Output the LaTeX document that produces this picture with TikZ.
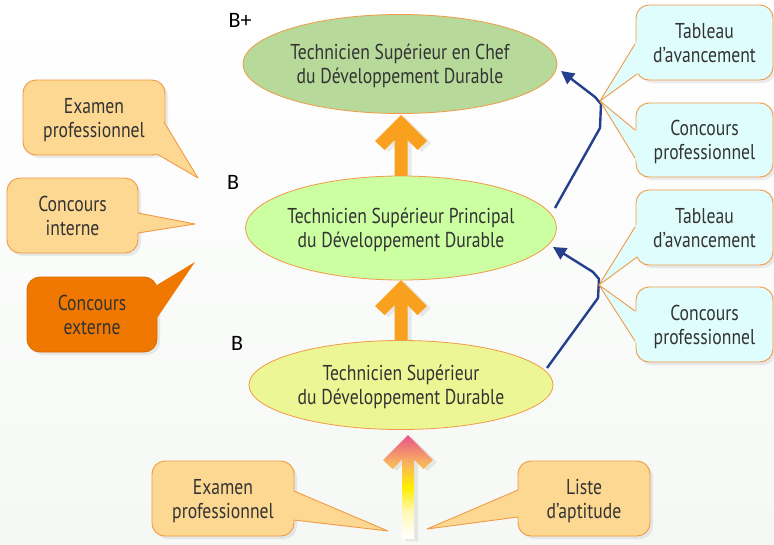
\documentclass[tikz,border=0pt]{standalone}
\usepackage{fontspec}
\setmainfont{PT Sans}[FakeStretch=0.82]
\newfontfamily\labfont{Carlito}
\usetikzlibrary{shapes.geometric,arrows.meta,calc,shadows}
\definecolor{bordc}{HTML}{F19A46}
\definecolor{boxc}{HTML}{FDD892}
\definecolor{darkbox}{HTML}{F07800}
\definecolor{cyanc}{HTML}{E0FDFD}
\definecolor{ellA}{HTML}{B7DA9B}
\definecolor{ellB}{HTML}{CCFFA2}
\definecolor{ellC}{HTML}{EDF694}
\definecolor{orgarr}{HTML}{F9A11E}
\definecolor{bluec}{HTML}{243F8C}
\definecolor{txtc}{HTML}{333333}
\definecolor{bgbot}{HTML}{F5F8F5}
\definecolor{yelA}{HTML}{FFEE00}
\definecolor{yelB}{HTML}{FFF8B8}
\definecolor{orgB}{HTML}{F8B060}
\definecolor{pinkA}{HTML}{E8548A}
\pgfdeclareverticalshading{gradarrow}{100bp}{color(0bp)=(white); color(25bp)=(white); color(38bp)=(yelB); color(50bp)=(yelA); color(62bp)=(orgB); color(75bp)=(pinkA); color(100bp)=(pinkA)}
\tikzset{
  txt/.style={font=\fontsize{21.5}{24}\selectfont, text=txtc, align=center, text depth=0pt},
  ell/.style={txt, ellipse, draw=bordc, line width=0.8pt, inner xsep=-40pt, inner ysep=-15pt},
  cbox/.style={txt, rectangle, rounded corners=13pt, draw=bordc, line width=0.9pt, inner sep=0pt,
    drop shadow={opacity=0.15, shadow xshift=3pt, shadow yshift=-3pt}},
  lvl/.style={font=\labfont\fontsize{22}{22}\selectfont, text=black},
  bluearr/.style={draw=bluec, line width=2.4pt, line join=round, -{Triangle[length=13pt,width=13pt]}},
  ashadow/.style={drop shadow={opacity=0.15, shadow xshift=4pt, shadow yshift=-2pt}},
}
\newcommand\bigarrow[5]{%
  \path[#3] let \p1=(#1), \p2=(#2) in
  (\x1,\y1) -- (\x1+#4pt,\y1-#4pt) -- (\x1+#4pt-9.5pt,\y1-#4pt-9pt) -- (\x1+#5pt,\y1-18.5pt-#5pt)
  -- (\x1+#5pt,\y2) -- (\x1-#5pt,\y2) -- (\x1-#5pt,\y1-18.5pt-#5pt)
  -- (\x1-#4pt+9.5pt,\y1-#4pt-9pt) -- (\x1-#4pt,\y1-#4pt) -- cycle;}
\newcommand\tail[4]{%
  \fill[#1] (#2) -- ($(#2)!1.15!(#3)$) -- ($(#2)!1.15!(#4)$) -- cycle;
  \draw[bordc, line width=0.9pt, line join=round] (#3) -- (#2) -- (#4);}
\begin{document}
\begin{tikzpicture}[x=1pt,y=-1pt]
\useasboundingbox (0,0) rectangle (774,544);
\fill[top color=white, bottom color=bgbot] (0,0) rectangle (774,544);

% level labels
\node[lvl] (lB1) at (240,20) {B+};
\node[lvl] (lB2) at (233,182) {B};
\node[lvl] (lB3) at (237,343) {B};

% ellipse positions
\coordinate (c1) at (400,64);
\coordinate (c2) at (401,228);
\coordinate (c3) at (401,385);

% orange arrows (behind ellipses)
\coordinate (a1tip) at (401,115);
\coordinate (a1bot) at (401,178);
\coordinate (a2tip) at (401,280);
\coordinate (a2bot) at (401,343);
\bigarrow{a1tip}{a1bot}{fill=orgarr, ashadow}{26}{6.5}
\bigarrow{a2tip}{a2bot}{fill=orgarr, ashadow}{26}{6.5}

% ellipses
\node[ell, fill=ellA, minimum width=314pt, minimum height=99pt] (e1) at (c1)
  {Technicien Supérieur en Chef\\du Développement Durable};
\node[ell, fill=ellB, minimum width=311pt, minimum height=104pt] (e2) at (c2)
  {Technicien Supérieur Principal\\du Développement Durable};
\node[ell, fill=ellC, minimum width=304pt, minimum height=89pt] (e3) at (c3)
  {Technicien Supérieur\\du Développement Durable};

% blue arrows
\coordinate (bA0) at (555,208);
\coordinate (bA1) at (600,128);
\coordinate (bA2) at (601,104);
\coordinate (bA3) at (595,97);
\coordinate (bA4) at (561,71);
\draw[bluearr] (bA0) -- (bA1) -- (bA2) -- (bA3) -- (bA4);
\coordinate (bB0) at (547,368);
\coordinate (bB1) at (598,298);
\coordinate (bB2) at (599,279);
\coordinate (bB3) at (593,272);
\coordinate (bB4) at (553,247);
\draw[bluearr] (bB0) -- (bB1) -- (bB2) -- (bB3) -- (bB4);

% left callouts
\node[cbox, fill=boxc, minimum width=142pt, minimum height=75pt] (LA) at (94,117.5) {Examen\\professionnel};
\coordinate (tLA) at (198,178);
\tail{boxc}{tLA}{164,122}{157,154}
\node[cbox, fill=boxc, minimum width=131pt, minimum height=75pt] (LB) at (72.5,215.5) {Concours\\interne};
\coordinate (tLB) at (195,224);
\tail{boxc}{tLB}{138,213}{138,233}
\node[cbox, fill=darkbox, draw=darkbox!90!black, minimum width=130pt, minimum height=75pt] (LC) at (92,314.5) {Concours\\externe};
\coordinate (tLC) at (195,262);
\fill[darkbox] (tLC) -- ($(tLC)!1.15!(152,288)$) -- ($(tLC)!1.15!(157,318)$) -- cycle;

% right callouts
\node[cbox, fill=cyanc, minimum width=137pt, minimum height=75pt] (RA1) at (704.5,42.5) {Tableau\\d’avancement};
\node[cbox, fill=cyanc, minimum width=137pt, minimum height=74pt] (RB1) at (704.5,140) {Concours\\professionnel};
\coordinate (tR1) at (600,101);
\tail{cyanc}{tR1}{635,44}{637,74}
\tail{cyanc}{tR1}{635,130}{635,158}
\node[cbox, fill=cyanc, minimum width=137pt, minimum height=75pt] (RA2) at (704.5,227.5) {Tableau\\d’avancement};
\node[cbox, fill=cyanc, minimum width=137pt, minimum height=75pt] (RB2) at (704.5,324.5) {Concours\\professionnel};
\coordinate (tR2) at (599,285);
\tail{cyanc}{tR2}{635,227}{637,257}
\tail{cyanc}{tR2}{635,311}{635,341}

% bottom callouts
\node[cbox, fill=boxc, minimum width=142pt, minimum height=75pt] (BL) at (223,498.5) {Examen\\professionnel};
\coordinate (tBL) at (388,531);
\tail{boxc}{tBL}{294,491}{294,520}
\node[cbox, fill=boxc, minimum width=132pt, minimum height=75pt] (BR) at (584,498.5) {Liste\\d’aptitude};
\coordinate (tBR) at (427,529);
\tail{boxc}{tBR}{518,490}{518,517}

% bottom gradient arrow
\coordinate (a3tip) at (408,435);
\coordinate (a3bot) at (408,539);
\bigarrow{a3tip}{a3bot}{shading=gradarrow, ashadow}{25}{6}
\end{tikzpicture}
\end{document}
